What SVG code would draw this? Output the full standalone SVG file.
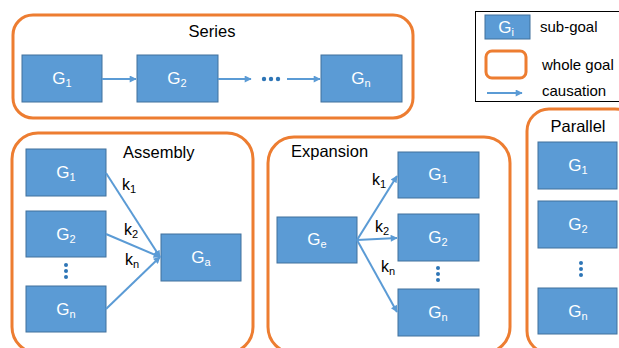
<svg xmlns="http://www.w3.org/2000/svg" width="619" height="348" viewBox="0 0 619 348">
  <defs>
    <marker id="arrow" viewBox="0 0 10 10" refX="9" refY="5" markerWidth="8" markerHeight="7" markerUnits="userSpaceOnUse" orient="auto">
      <path d="M0,0 L10,5 L0,10 z" fill="#5B9BD5"/>
    </marker>
    <style>
      .goal { fill: none; stroke: #ED7D31; stroke-width: 3; }
      .sub { fill: #5B9BD5; stroke: #41719C; stroke-width: 1; }
      .lbl { font-family: "Liberation Sans", Arial, sans-serif; font-size: 17px; fill: #FFFFFF; text-anchor: middle; }
      .ttl { font-family: "Liberation Sans", Arial, sans-serif; font-size: 16.5px; fill: #000000; }
      .k { font-family: "Liberation Sans", Arial, sans-serif; font-size: 16px; fill: #000000; }
      .leg { font-family: "Liberation Sans", Arial, sans-serif; font-size: 15px; fill: #000000; }
      .sb { font-size: 11px; }
      .edge { stroke: #5B9BD5; stroke-width: 2; fill: none; marker-end: url(#arrow); }
      .dot { fill: #2E75B6; }
    </style>
  </defs>
  <rect width="619" height="348" fill="#FFFFFF"/>

  <!-- whole-goal frames -->
  <g id="series-frame">
    <rect class="goal" x="13" y="15" width="400" height="103" rx="20"/>
    <text class="ttl" x="212" y="37" text-anchor="middle">Series</text>
  </g>
  <g id="assembly-frame">
    <rect class="goal" x="12" y="133" width="241" height="220" rx="26"/>
    <text class="ttl" x="123" y="158">Assembly</text>
  </g>
  <g id="expansion-frame">
    <rect class="goal" x="268" y="137" width="242" height="216" rx="26"/>
    <text class="ttl" x="291" y="157">Expansion</text>
  </g>
  <g id="parallel-frame">
    <rect class="goal" x="527" y="109" width="110" height="244" rx="22"/>
    <text class="ttl" x="578" y="132" text-anchor="middle">Parallel</text>
  </g>

  <!-- legend -->
  <g id="legend">
    <rect x="475.5" y="11.5" width="150" height="90" fill="none" stroke="#000000" stroke-width="1"/>
    <rect class="sub" x="485" y="15" width="45" height="24"/>
    <text class="lbl" x="506" y="33">G<tspan class="sb" dy="3">i</tspan></text>
    <text class="leg" x="540" y="32">sub-goal</text>
    <rect class="goal" x="486" y="51" width="40" height="27" rx="6"/>
    <text class="leg" x="542" y="70">whole goal</text>
    <line class="edge" x1="487" y1="93" x2="522" y2="93"/>
    <text class="leg" x="542" y="96">causation</text>
  </g>

  <!-- series sub-goals -->
  <g id="s-g1"><rect class="sub" x="22" y="55" width="80" height="47"/><text class="lbl" x="62" y="84">G<tspan class="sb" dy="3">1</tspan></text></g>
  <g id="s-g2"><rect class="sub" x="137" y="55" width="81" height="47"/><text class="lbl" x="177" y="84">G<tspan class="sb" dy="3">2</tspan></text></g>
  <g id="s-gn"><rect class="sub" x="321" y="55" width="81" height="47"/><text class="lbl" x="361" y="84">G<tspan class="sb" dy="3">n</tspan></text></g>
  <g id="s-dots">
    <circle class="dot" cx="264" cy="79" r="2.2"/>
    <circle class="dot" cx="271" cy="79" r="2.2"/>
    <circle class="dot" cx="278" cy="79" r="2.2"/>
  </g>

  <!-- assembly sub-goals -->
  <g id="a-g1"><rect class="sub" x="26" y="149" width="80" height="47"/><text class="lbl" x="66" y="178">G<tspan class="sb" dy="3">1</tspan></text></g>
  <g id="a-g2"><rect class="sub" x="26" y="211" width="80" height="46"/><text class="lbl" x="66" y="240">G<tspan class="sb" dy="3">2</tspan></text></g>
  <g id="a-gn"><rect class="sub" x="26" y="286" width="80" height="46"/><text class="lbl" x="66" y="315">G<tspan class="sb" dy="3">n</tspan></text></g>
  <g id="a-ga"><rect class="sub" x="161" y="234" width="80" height="47"/><text class="lbl" x="201" y="263">G<tspan class="sb" dy="3">a</tspan></text></g>
  <g id="a-dots">
    <circle class="dot" cx="66" cy="265" r="2"/>
    <circle class="dot" cx="66" cy="271" r="2"/>
    <circle class="dot" cx="66" cy="277" r="2"/>
  </g>

  <!-- expansion sub-goals -->
  <g id="e-ge"><rect class="sub" x="277" y="217" width="80" height="46"/><text class="lbl" x="317" y="245">G<tspan class="sb" dy="3">e</tspan></text></g>
  <g id="e-g1"><rect class="sub" x="398" y="152" width="81" height="46"/><text class="lbl" x="438" y="180">G<tspan class="sb" dy="3">1</tspan></text></g>
  <g id="e-g2"><rect class="sub" x="398" y="214" width="81" height="47"/><text class="lbl" x="438" y="243">G<tspan class="sb" dy="3">2</tspan></text></g>
  <g id="e-gn"><rect class="sub" x="398" y="289" width="81" height="47"/><text class="lbl" x="438" y="318">G<tspan class="sb" dy="3">n</tspan></text></g>
  <g id="e-dots">
    <circle class="dot" cx="438" cy="268" r="2"/>
    <circle class="dot" cx="438" cy="274" r="2"/>
    <circle class="dot" cx="438" cy="280" r="2"/>
  </g>

  <!-- parallel sub-goals -->
  <g id="p-g1"><rect class="sub" x="538" y="142" width="79" height="47"/><text class="lbl" x="578" y="171">G<tspan class="sb" dy="3">1</tspan></text></g>
  <g id="p-g2"><rect class="sub" x="538" y="201" width="79" height="47"/><text class="lbl" x="578" y="230">G<tspan class="sb" dy="3">2</tspan></text></g>
  <g id="p-gn"><rect class="sub" x="538" y="288" width="79" height="46"/><text class="lbl" x="578" y="317">G<tspan class="sb" dy="3">n</tspan></text></g>
  <g id="p-dots">
    <circle class="dot" cx="581" cy="263" r="2"/>
    <circle class="dot" cx="581" cy="269" r="2"/>
    <circle class="dot" cx="581" cy="275" r="2"/>
  </g>

  <!-- causation connectors -->
  <g id="connectors">
    <line class="edge" x1="102" y1="79" x2="136" y2="79"/>
    <line class="edge" x1="218" y1="79" x2="251" y2="79"/>
    <line class="edge" x1="287" y1="79" x2="320" y2="79"/>

    <line class="edge" x1="106" y1="173" x2="160" y2="257"/>
    <line class="edge" x1="106" y1="234" x2="160" y2="257"/>
    <line class="edge" x1="106" y1="309" x2="160" y2="257"/>

    <line class="edge" x1="357" y1="240" x2="397" y2="176"/>
    <line class="edge" x1="357" y1="240" x2="397" y2="238"/>
    <line class="edge" x1="357" y1="240" x2="397" y2="312"/>
  </g>

  <!-- coefficient labels -->
  <g id="weights">
    <text class="k" x="122" y="190">k<tspan class="sb" dy="3">1</tspan></text>
    <text class="k" x="124" y="235">k<tspan class="sb" dy="3">2</tspan></text>
    <text class="k" x="125" y="265">k<tspan class="sb" dy="3">n</tspan></text>
    <text class="k" x="372" y="185">k<tspan class="sb" dy="3">1</tspan></text>
    <text class="k" x="375" y="232">k<tspan class="sb" dy="3">2</tspan></text>
    <text class="k" x="381" y="272">k<tspan class="sb" dy="3">n</tspan></text>
  </g>
</svg>
